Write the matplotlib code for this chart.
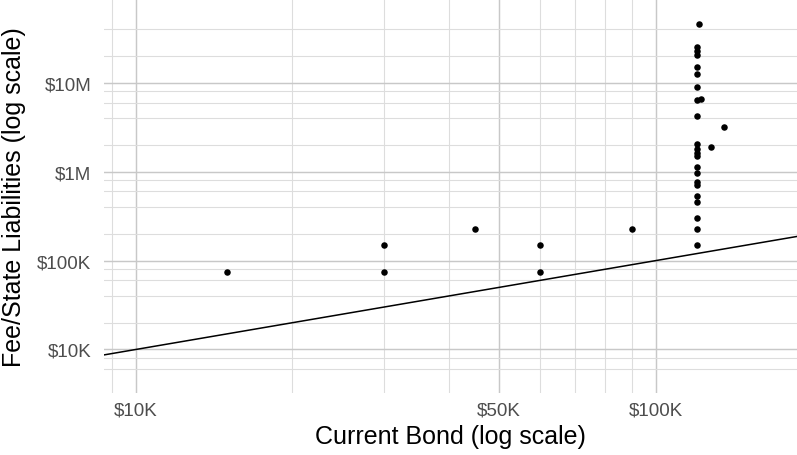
import matplotlib
matplotlib.use("Agg")
import matplotlib.pyplot as plt
from matplotlib.ticker import FixedLocator, NullFormatter

plt.rcParams['font.family'] = ['Liberation Sans', 'DejaVu Sans']

# current bond vs fee/state liabilities
bond = [15000, 30000, 30000, 45000, 60000, 60000, 90000,
        121000, 120000, 120000, 120000, 120000, 120000, 120000, 120000, 122000,
        120000, 135000, 120000, 127500, 120000, 120000, 120000, 120000, 120000,
        120000, 120000, 120000, 120000, 120000, 120000, 120000]
liab = [75000, 150000, 75000, 225000, 150000, 75000, 225000,
        45800000, 25000000, 22900000, 20700000, 15100000, 12500000, 8860000, 6420000, 6660000,
        4240000, 3180000, 2030000, 1890000, 1780000, 1640000, 1500000, 1140000, 975000,
        763000, 700000, 530000, 454000, 303000, 228000, 151000]

x_lim = [8690, 186900]
y_lim = [3240, 87700000]

x_major = [10000, 50000, 100000]
x_major_labels = ['$10K', '$50K', '$100K']
x_minor = [9000, 20000, 30000, 40000, 60000, 70000, 80000, 90000]

y_major = [10000, 100000, 1000000, 10000000]
y_major_labels = ['$10K', '$100K', '$1M', '$10M']
y_minor = [6000, 8000, 20000, 40000, 60000, 80000, 200000, 400000, 600000, 800000,
           2000000, 4000000, 6000000, 8000000, 20000000, 40000000]

fig = plt.figure(figsize=(7.97, 4.56), dpi=100)
ax = fig.add_axes([104 / 797, 62 / 456, 693 / 797, 394 / 456])

ax.set_xscale('log')
ax.set_yscale('log')
ax.set_xlim(x_lim)
ax.set_ylim(y_lim)

ax.xaxis.set_major_locator(FixedLocator(x_major))
ax.set_xticklabels(x_major_labels)
ax.xaxis.set_minor_locator(FixedLocator(x_minor))
ax.xaxis.set_minor_formatter(NullFormatter())
ax.yaxis.set_major_locator(FixedLocator(y_major))
ax.set_yticklabels(y_major_labels)
ax.yaxis.set_minor_locator(FixedLocator(y_minor))
ax.yaxis.set_minor_formatter(NullFormatter())

ax.grid(which='major', color='#c8c8c8', linewidth=1.05)
ax.grid(which='minor', color='#dddddd', linewidth=0.8)
ax.set_axisbelow(True)
for s in ax.spines.values():
    s.set_visible(False)
ax.tick_params(which='both', length=0)
ax.tick_params(axis='x', labelsize=13.5, labelcolor='#4d4d4d', pad=6)
ax.tick_params(axis='y', labelsize=13.5, labelcolor='#4d4d4d', pad=9)

# reference line y = x
ax.plot(x_lim, x_lim, color='black', linewidth=1.1, zorder=2)
ax.scatter(bond, liab, s=22, color='black', zorder=3, linewidths=0)

ax.set_xlabel('Current Bond (log scale)', fontsize=18, labelpad=4)
ax.set_ylabel('Fee/State Liabilities (log scale)', fontsize=18, labelpad=8)

fig.savefig('out.png', dpi=100)
